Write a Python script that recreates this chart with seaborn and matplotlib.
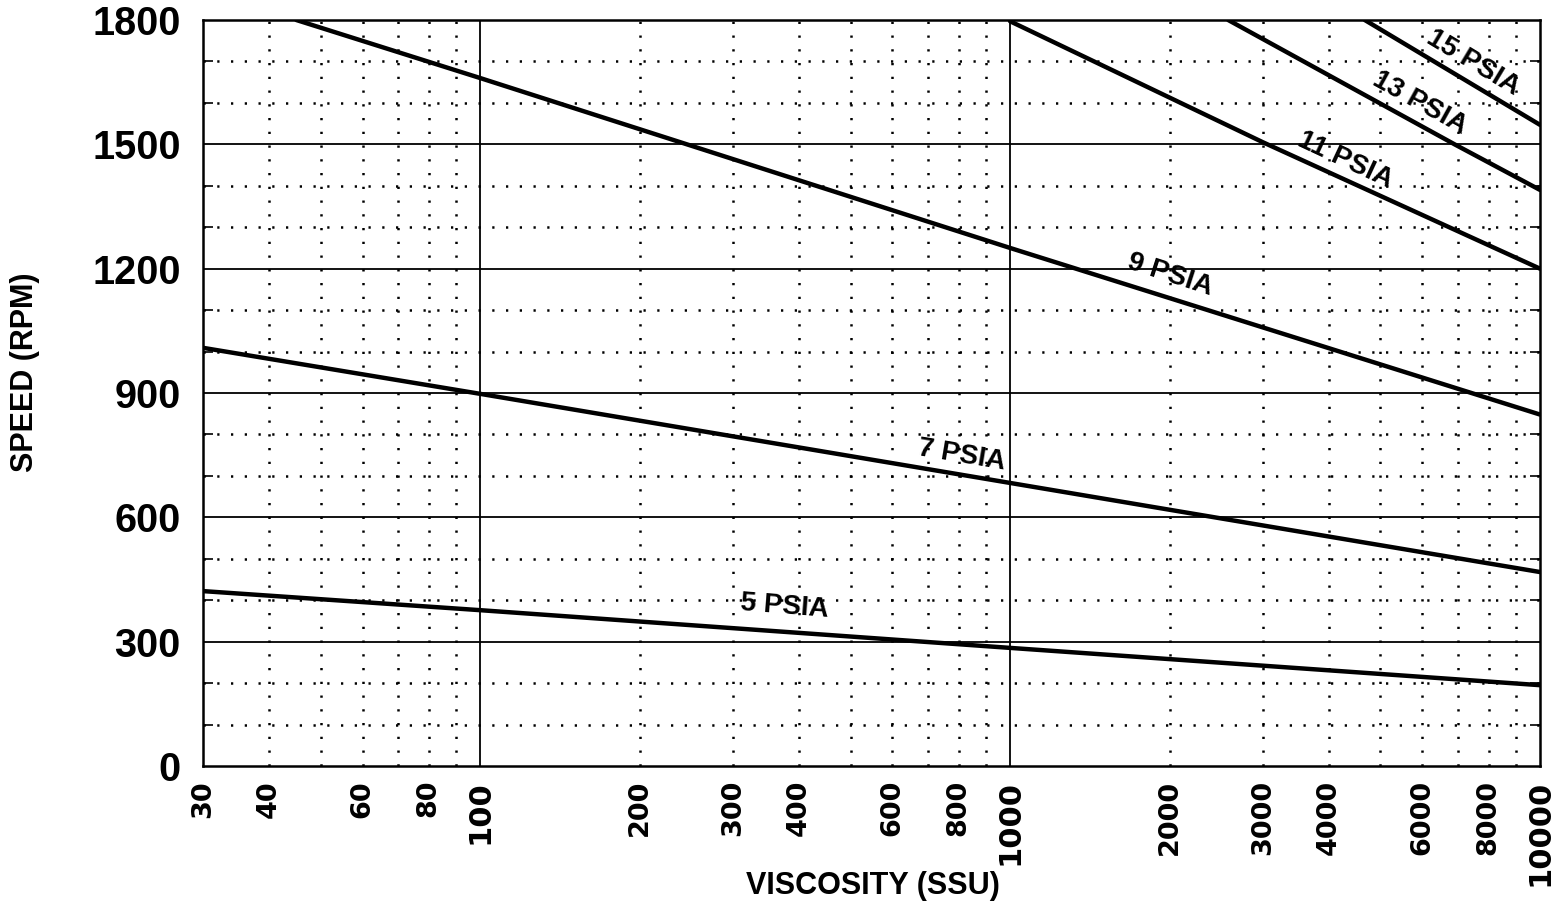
import numpy as np
import pandas as pd
import matplotlib
matplotlib.use("Agg")
import matplotlib.pyplot as plt
import seaborn as sns
from matplotlib.ticker import FixedLocator, FixedFormatter, NullFormatter

# ---------------- data ----------------
p5_visc = [30, 100, 1000, 10000]
p5_speed = [422, 376, 285, 195]
p7_visc = [30, 100, 1000, 10000]
p7_speed = [1009, 898, 683, 468]
p9_visc = [45, 100, 1000, 10000]
p9_speed = [1800, 1660, 1250, 848]
p11_visc = [1000, 3000, 10000]
p11_speed = [1797, 1505, 1200]
p13_visc = [2580, 6900, 10000]
p13_speed = [1800, 1500, 1390]
p15_visc = [4670, 10000]
p15_speed = [1800, 1547]

series_names = ["5 PSIA", "7 PSIA", "9 PSIA", "11 PSIA", "13 PSIA", "15 PSIA"]

x_tick_values = [30, 40, 60, 80, 100, 200, 300, 400, 600, 800,
                 1000, 2000, 3000, 4000, 6000, 8000, 10000]
x_tick_labels = [str(v) for v in x_tick_values]
x_big_labels = [100, 1000, 10000]
x_minor_ticks = [40, 50, 60, 70, 80, 90, 125, 150, 175,
                 200, 300, 400, 500, 600, 700, 800, 900, 1250, 1500, 1750,
                 2000, 3000, 4000, 5000, 6000, 7000, 8000, 9000]
x_solid_grid = [100, 1000]
x_dotted_grid = [40, 50, 60, 70, 80, 90, 200, 300, 400, 500, 600, 700, 800, 900,
                 2000, 3000, 4000, 5000, 6000, 7000, 8000, 9000]

y_tick_values = [0, 300, 600, 900, 1200, 1500, 1800]
y_tick_labels = [str(v) for v in y_tick_values]
y_dotted_grid = [100, 200, 400, 500, 700, 800, 1000, 1100, 1300, 1400, 1600, 1700]

# label placement (style / position, not data)
label_pos = [(376, 384), (811, 750), (2004, 1185), (4284, 1462), (5934, 1600), (7470, 1696)]
label_rot = [-4.5, -9.5, -18, -25, -29, -31]

# ---------------- build table ----------------
frames = []
for name, xs, ys in zip(series_names,
                        [p5_visc, p7_visc, p9_visc, p11_visc, p13_visc, p15_visc],
                        [p5_speed, p7_speed, p9_speed, p11_speed, p13_speed, p15_speed]):
    frames.append(pd.DataFrame({"visc": xs, "speed": ys, "pressure": name}))
df = pd.concat(frames, ignore_index=True)

# ---------------- style ----------------
sns.set_style("white")
plt.rcParams["font.family"] = ["Liberation Sans", "DejaVu Sans"]
plt.rcParams["font.weight"] = "bold"
for key in ["text.color", "axes.labelcolor", "xtick.color", "ytick.color",
            "axes.edgecolor"]:
    plt.rcParams[key] = "black"

fig = plt.figure(figsize=(15.64, 9.24), dpi=100)
ax = fig.add_axes([203 / 1564, 1 - 766 / 924, 1337 / 1564, 746 / 924])
ax.set_xscale("log")

dot_style = (0, (0.9, 4.6))
for v in y_dotted_grid:
    ax.axhline(v, color="black", lw=1.8, linestyle=dot_style, zorder=1)
for v in y_tick_values[1:-1]:
    ax.axhline(v, color="black", lw=1.3, zorder=1)
for v in x_dotted_grid:
    ax.axvline(v, color="black", lw=1.8, linestyle=dot_style, zorder=1)
for v in x_solid_grid:
    ax.axvline(v, color="black", lw=1.3, zorder=1)

sns.lineplot(data=df, x="visc", y="speed", units="pressure", estimator=None,
             sort=False, color="black", lw=3.2, ax=ax, zorder=3, legend=False)

ax.set_xlim(30, 10000)
ax.set_ylim(0, 1800)

# x ticks
ax.xaxis.set_major_locator(FixedLocator(x_tick_values))
ax.xaxis.set_major_formatter(FixedFormatter(x_tick_labels))
ax.xaxis.set_minor_locator(FixedLocator(x_minor_ticks))
ax.xaxis.set_minor_formatter(NullFormatter())
ax.tick_params(axis="x", which="major", direction="in", length=6, width=1.2,
               pad=10, labelrotation=90)
ax.tick_params(axis="x", which="minor", direction="in", length=6, width=1.2)
for lab, v in zip(ax.get_xticklabels(), x_tick_values):
    lab.set_family(["DejaVu Sans"])
    lab.set_fontweight("bold")
    lab.set_fontsize(22 if v in x_big_labels else 19.5)
    lab.set_va("top")
    lab.set_color("black")

# y ticks
ax.yaxis.set_major_locator(FixedLocator(y_tick_values))
ax.yaxis.set_major_formatter(FixedFormatter(y_tick_labels))
ax.yaxis.set_minor_locator(FixedLocator(y_dotted_grid))
ax.tick_params(axis="y", which="major", direction="in", length=0, pad=16,
               labelsize=28.5)
ax.tick_params(axis="y", which="minor", direction="in", length=7, width=1.2,
               left=True, right=True)
for lab in ax.get_yticklabels():
    lab.set_fontweight("bold")
    lab.set_family(["Liberation Sans"])
    lab.set_color("black")

for s in ax.spines.values():
    s.set_linewidth(1.8)
    s.set_color("black")
    s.set_zorder(5)

ax.set_xlabel("VISCOSITY (SSU)", fontsize=22, fontweight="bold", va="center",
              color="black")
ax.xaxis.set_label_coords((873 - 203) / 1337, (766 - 886) / 746)
ax.set_ylabel("SPEED (RPM)", fontsize=22, fontweight="bold", va="center",
              color="black")
ax.yaxis.set_label_coords((25 - 203) / 1337, (766 - 372) / 746)

for name, (lx, ly), rot in zip(series_names, label_pos, label_rot):
    ax.text(lx, ly, name, fontsize=20, fontweight="bold", rotation=rot,
            rotation_mode="anchor", ha="center", va="center", zorder=4,
            color="black")

fig.savefig("out.png", dpi=100, facecolor="white")
